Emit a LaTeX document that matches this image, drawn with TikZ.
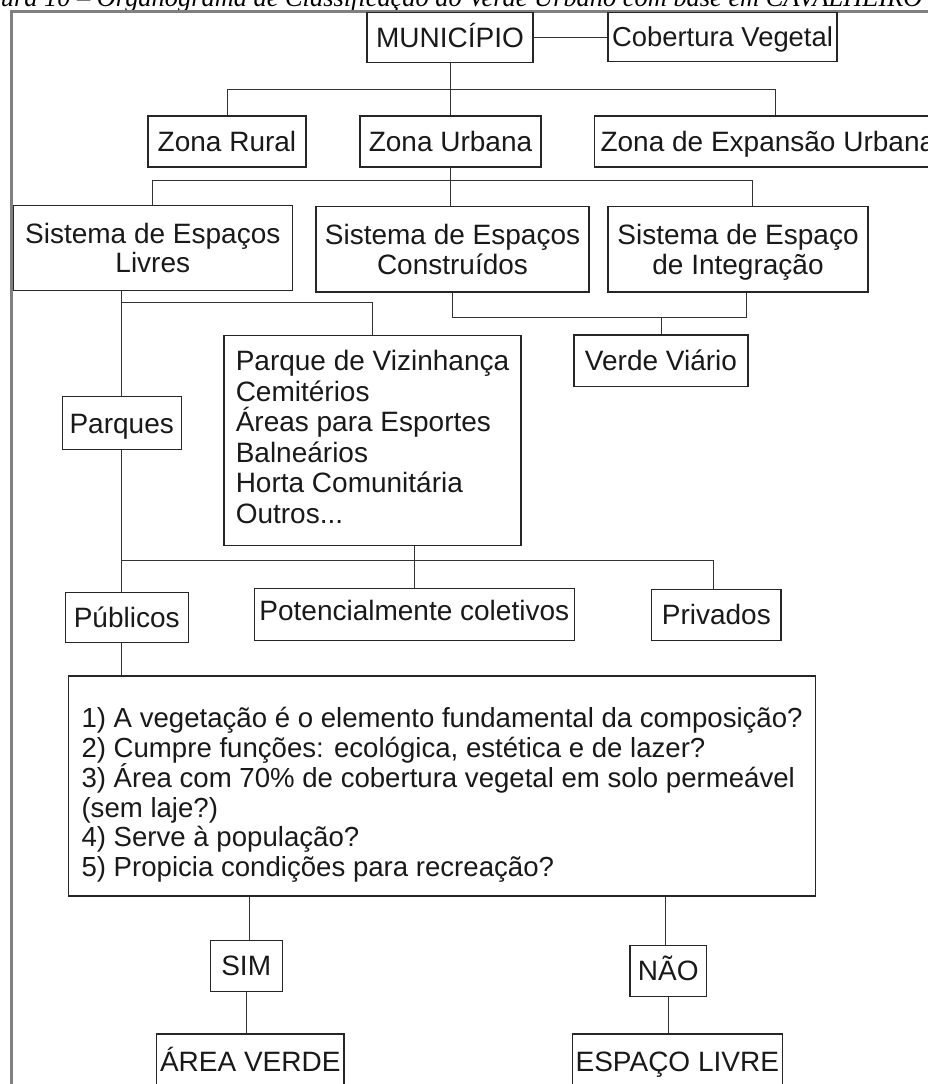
\documentclass[tikz,border=0pt]{standalone}
\usepackage{fontspec}
\setmainfont{Liberation Sans}
\newfontfamily\legendafont{Liberation Serif}
\usepackage{tikz}
\tikzset{
	caixa/.style={draw=black!85, line width=1.1pt, inner sep=0pt, text=black!90, text height=20pt, text depth=0pt, font=\fontsize{28}{29.4}\selectfont},
	liga/.style={draw=black!80, line width=0.9pt},
	moldura/.style={draw=black!50, line width=3pt}
}

\begin{document}
\begin{tikzpicture}[x=1pt, y=-1pt]
			\useasboundingbox (0,0) rectangle (928,1084);
			\node[anchor=base west, inner sep=0pt, font=\legendafont\itshape\fontsize{26.4}{28}\selectfont] (legenda) at (-36,6.5) {Figura 10 – Organograma de Classificação do Verde Urbano com base em CAVALHEIRO};
			\draw[moldura] (11.4,1095) -- (11.4,11.4) -- (945,11.4);
			% topo
			\node[caixa, minimum width=166, minimum height=50] (mun) at (450,37.8) {MUNICÍPIO};
			\node[caixa, minimum width=229, minimum height=49, font=\fontsize{27.4}{28}\selectfont] (cob) at (722.5,36.8) {Cobertura Vegetal};
			\draw[liga] (mun.east) -- (mun.east -| cob.west);
			% zonas
			\node[caixa, minimum width=158, minimum height=51] (rural) at (227,141.5) {Zona Rural};
			\node[caixa, minimum width=181, minimum height=51] (urb) at (450.5,141.5) {Zona Urbana};
			\node[caixa, minimum height=51, anchor=west, inner xsep=6.5pt] (exp) at (593.5,141.5) {Zona de Expansão Urbana};
			\coordinate (expdrop) at (775,89.3);
			\draw[liga] (mun.south) -- (mun.south |- urb.north);
			\draw[liga] (rural.north) |- (expdrop) -- (expdrop |- exp.north);
			% sistemas
			\node[caixa, minimum width=279.5, minimum height=85.5, align=center, text height=49.9pt] (livres) at (152.8,247.8) {Sistema de Espaços\\Livres};
			\node[caixa, minimum width=273, minimum height=85.3, align=center, text height=49.9pt] (constr) at (452.5,249.3) {Sistema de Espaços\\Construídos};
			\node[caixa, minimum width=260, minimum height=85.3, align=center, text height=49.9pt] (integ) at (738,249.3) {Sistema de Espaço\\de Integração};
			\coordinate (integdrop) at (752,180.5);
			\draw[liga] (urb.south) -- (urb.south |- constr.north);
			\draw[liga] (livres.north) |- (integdrop) -- (integdrop |- integ.north);
			\node[caixa, minimum width=174, minimum height=51.7] (viario) at (661,360.8) {Verde Viário};
			\coordinate (ijoin) at (746,317.3);
			\draw[liga] (constr.south) |- (ijoin) -- (ijoin |- integ.south);
			\draw[liga] (viario.north) -- (viario.north |- ijoin);
			% espacos livres
			\node[caixa, minimum width=297, minimum height=210.3, align=left, text height=165.6pt, font=\fontsize{28}{30.5}\selectfont] (lista) at (372.5,440.2) {Parque de Vizinhança\\Cemitérios\\Áreas para Esportes\\Balneários\\Horta Comunitária\\Outros...};
			\node[caixa, minimum width=118.7, minimum height=52.6] (parques) at (121.7,423) {Parques};
			\coordinate (livdrop) at (121.7,302.7);
			\draw[liga] (parques.north) -- (parques.north |- livres.south);
			\draw[liga] (livdrop) -| (lista.north);
			% tipos
			\node[caixa, minimum width=122.7, minimum height=50] (pub) at (126.7,617.3) {Públicos};
			\node[caixa, minimum width=320.5, minimum height=51.7, text depth=8pt] (pot) at (414.3,614.2) {Potencialmente coletivos};
			\node[caixa, minimum width=129.4, minimum height=50.7] (priv) at (716.3,614.7) {Privados};
			\coordinate (pbar) at (713,560.7);
			\draw[liga] (parques.south) -- (parques.south |- pub.north);
			\draw[liga] (parques.south |- pbar) -- (pbar) -- (pbar |- priv.north);
			\draw[liga] (pot.north) -- (pot.north |- lista.south);
			% perguntas
			\node[caixa, minimum width=746.6, minimum height=220, align=left, text height=180pt, font=\fontsize{27.6}{29.4}\selectfont] (quest) at (442.1,786) {1) A vegetação é o elemento fundamental da composição?\\2) Cumpre funções: ecológica, estética e de lazer?\\3) Área com 70\% de cobertura vegetal em solo permeável\\(sem laje?)\\4) Serve à população?\\5) Propicia condições para recreação?};
			\draw[liga] (parques.south |- pub.south) -- (parques.south |- quest.north);
			% respostas
			\node[caixa, minimum width=72.3, minimum height=50.3] (sim) at (246.2,965.9) {SIM};
			\node[caixa, minimum width=76.7, minimum height=50.3] (nao) at (668.3,970.9) {NÃO};
			\node[caixa, minimum width=187.3, minimum height=55.4] (area) at (250.3,1061.7) {ÁREA VERDE};
			\node[caixa, minimum width=210, minimum height=54] (livre) at (677.3,1061) {ESPAÇO LIVRE};
			\draw[liga] ([xshift=3pt]sim.north) -- ([xshift=3pt]sim.north |- quest.south);
			\draw[liga] (sim.south) -- (sim.south |- area.north);
			\draw[liga] ([xshift=-2.6pt]nao.north) -- ([xshift=-2.6pt]nao.north |- quest.south);
			\draw[liga] (nao.south) -- (nao.south |- livre.north);
		\end{tikzpicture}
\end{document}
